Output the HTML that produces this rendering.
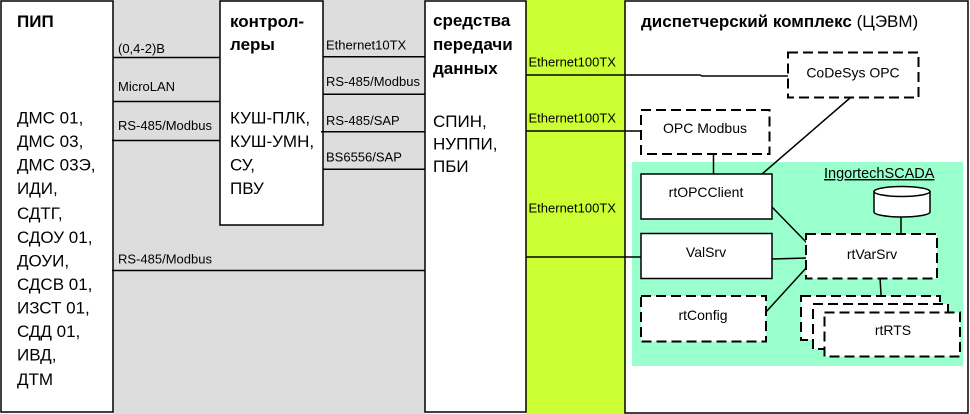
<!DOCTYPE html>
<html><head><meta charset="utf-8"><style>
html,body{margin:0;padding:0;background:#fff;}
svg{display:block;}
text{font-family:"Liberation Sans","DejaVu Sans",sans-serif;fill:#000;}
.b{font-weight:bold;font-size:17px;}
.l{font-size:17px;}
.s{font-size:13px;}
.m{font-size:14px;}
</style></head><body>
<svg width="970" height="414" viewBox="0 0 970 414" xmlns="http://www.w3.org/2000/svg">
<rect x="0" y="0" width="970" height="414" fill="#fff"/>
<!-- gray region -->
<rect x="113" y="0" width="312" height="414" fill="#dddddd"/>
<!-- green column -->
<rect x="526" y="0" width="99" height="414" fill="#ccff33"/>

<!-- ПИП box -->
<rect x="1" y="1" width="112" height="411" fill="#fff" stroke="#000" stroke-width="1.5"/>
<text class="b" x="17" y="27">ПИП</text>
<text class="l" x="17" y="123.5">ДМС 01,</text>
<text class="l" x="17" y="147">ДМС 03,</text>
<text class="l" x="17" y="170.5">ДМС 03Э,</text>
<text class="l" x="17" y="194">ИДИ,</text>
<text class="l" x="17" y="219">СДТГ,</text>
<text class="l" x="17" y="243">СДОУ 01,</text>
<text class="l" x="17" y="266.5">ДОУИ,</text>
<text class="l" x="17" y="290">СДСВ 01,</text>
<text class="l" x="17" y="313.5">ИЗСТ 01,</text>
<text class="l" x="17" y="337">СДД 01,</text>
<text class="l" x="17" y="360.5">ИВД,</text>
<text class="l" x="17" y="385">ДТМ</text>

<!-- controllers box -->
<rect x="220" y="1" width="103" height="224" fill="#fff" stroke="#000" stroke-width="1.5"/>
<text class="b" x="230" y="27">контрол-</text>
<text class="b" x="230" y="50">леры</text>
<text class="l" x="230" y="123.5">КУШ-ПЛК,</text>
<text class="l" x="230" y="147">КУШ-УМН,</text>
<text class="l" x="230" y="170.5">СУ,</text>
<text class="l" x="230" y="194">ПВУ</text>

<!-- gray labels left -->
<g stroke="#000" stroke-width="1.5">
<line x1="113" y1="57.5" x2="220" y2="57.5"/>
<line x1="113" y1="101.5" x2="220" y2="101.5"/>
<line x1="112" y1="140.5" x2="220" y2="140.5"/>
<line x1="112" y1="270.5" x2="425" y2="270.5"/>
<line x1="323" y1="56.8" x2="425" y2="56.8"/>
<line x1="323" y1="94.3" x2="425" y2="94.3"/>
<line x1="321" y1="131.7" x2="425" y2="131.7"/>
<line x1="323" y1="169.3" x2="425" y2="169.3"/>
</g>
<text class="s" x="118" y="53">(0,4-2)В</text>
<text class="s" x="118" y="91">MicroLAN</text>
<text class="s" x="118" y="130">RS-485/Modbus</text>
<text class="s" x="118" y="263.5">RS-485/Modbus</text>
<text class="s" x="326" y="49.5">Ethernet10TX</text>
<text class="s" x="326" y="86">RS-485/Modbus</text>
<text class="s" x="326" y="125">RS-485/SAP</text>
<text class="s" x="326" y="161.7">BS6556/SAP</text>

<!-- средства box -->
<rect x="425" y="1" width="101" height="411" fill="#fff" stroke="#000" stroke-width="1.5"/>
<text class="b" x="433" y="26">средства</text>
<text class="b" x="433" y="50">передачи</text>
<text class="b" x="433" y="74">данных</text>
<text class="l" x="433" y="127">СПИН,</text>
<text class="l" x="433" y="149.5">НУППИ,</text>
<text class="l" x="433" y="172">ПБИ</text>

<!-- green labels -->
<text class="s" x="528.5" y="66.7">Ethernet100TX</text>
<text class="s" x="528.5" y="122.3">Ethernet100TX</text>
<text class="s" x="528.5" y="212.7">Ethernet100TX</text>

<!-- dispatcher box -->
<rect x="625" y="1" width="343" height="412" fill="#fff" stroke="#000" stroke-width="1.5"/>
<text x="641" y="27" style="font-size:17px"><tspan font-weight="bold">диспетчерский комплекс</tspan> (ЦЭВМ)</text>

<!-- aqua area -->
<rect x="632" y="162" width="331" height="204" fill="#99ffcc"/>
<text x="824" y="178" style="font-size:14.5px" text-decoration="underline">IngortechSCADA</text>

<!-- connectors -->
<g stroke="#000" stroke-width="1.5" fill="none">
<polyline points="526,75 700,75 702,76 788,76"/>
<line x1="526" y1="131" x2="641" y2="131"/>
<line x1="526" y1="257" x2="641" y2="257"/>
<line x1="713.5" y1="154" x2="713.5" y2="174"/>
<line x1="850" y1="98" x2="762" y2="174"/>
<line x1="772" y1="207" x2="807" y2="243"/>
<line x1="772" y1="259" x2="807" y2="258"/>
<line x1="766" y1="312" x2="807" y2="267"/>
<line x1="901" y1="217" x2="901" y2="234"/>
<line x1="880" y1="278" x2="881.5" y2="302"/>
</g>

<!-- CoDeSys OPC -->
<rect x="788" y="52.5" width="130.5" height="45" fill="#fff" stroke="#000" stroke-width="2" stroke-dasharray="10 5"/>
<text class="m" x="853" y="77.5" text-anchor="middle">CoDeSys OPC</text>

<!-- OPC Modbus -->
<rect x="641" y="110" width="128.5" height="44" fill="#fff" stroke="#000" stroke-width="2" stroke-dasharray="10 5"/>
<text class="m" x="705" y="133" text-anchor="middle">OPC Modbus</text>

<!-- rtOPCClient -->
<rect x="641" y="174" width="131" height="45" fill="#fff" stroke="#000" stroke-width="1.5"/>
<text class="m" x="706" y="197" text-anchor="middle">rtOPCClient</text>

<!-- ValSrv -->
<rect x="641" y="233.5" width="131" height="45" fill="#fff" stroke="#000" stroke-width="1.5"/>
<text class="m" x="706" y="257" text-anchor="middle">ValSrv</text>

<!-- rtConfig -->
<rect x="641" y="296" width="125" height="45.5" fill="#fff" stroke="#000" stroke-width="2" stroke-dasharray="10 5"/>
<text class="m" x="703" y="320" text-anchor="middle">rtConfig</text>

<!-- rtVarSrv -->
<rect x="806" y="234" width="131" height="44.5" fill="#fff" stroke="#000" stroke-width="2" stroke-dasharray="10 5"/>
<text class="m" x="872" y="259" text-anchor="middle">rtVarSrv</text>

<!-- database cylinder -->
<g stroke="#000" stroke-width="1.5" fill="#fff">
<path d="M874,191.5 L874,212 A28,5 0 0 0 930,212 L930,191.5"/>
<ellipse cx="902" cy="191.5" rx="28" ry="5"/>
</g>

<!-- rtRTS stack -->
<rect x="801" y="296" width="139" height="44" fill="#fff" stroke="#000" stroke-width="2" stroke-dasharray="10 5"/>
<rect x="813" y="304" width="135" height="45" fill="#fff" stroke="#000" stroke-width="2" stroke-dasharray="10 5"/>
<rect x="824.5" y="312.5" width="135.5" height="44" fill="#fff" stroke="#000" stroke-width="2" stroke-dasharray="10 5"/>
<text class="m" x="893" y="335" text-anchor="middle">rtRTS</text>
</svg>
</body></html>
